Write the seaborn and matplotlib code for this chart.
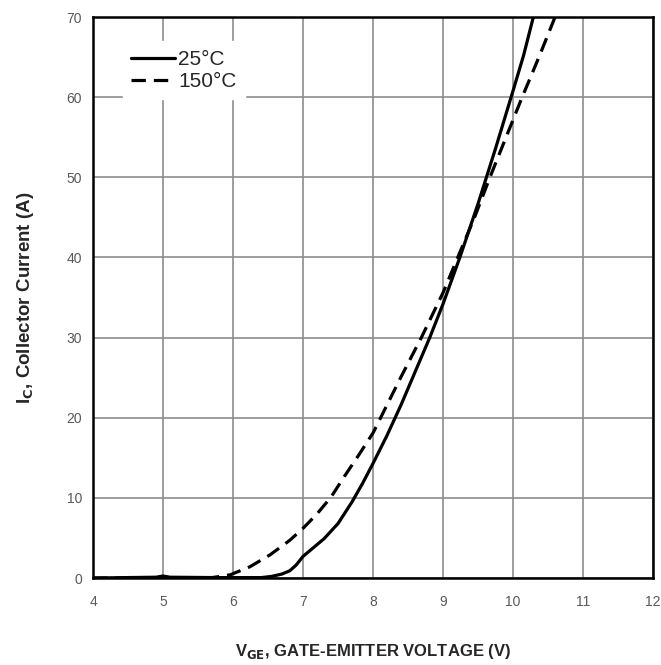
import numpy as np
import pandas as pd
import seaborn as sns
import matplotlib.pyplot as plt

# values
vge_25 = [4.0, 4.9, 5.0, 5.1, 5.8, 6.4, 6.55, 6.7, 6.81, 6.9, 7.0, 7.15, 7.3, 7.5,
          7.7, 7.85, 8.0, 8.2, 8.4, 8.6, 8.81, 9.0, 9.24, 9.5, 9.75, 10.0, 10.15, 10.29]
ic_25 = [0, 0.1, 0.25, 0.1, 0.05, 0.05, 0.2, 0.5, 0.9, 1.6, 2.7, 3.8, 4.9, 6.8,
         9.5, 11.8, 14.3, 17.8, 21.6, 25.7, 30, 34.2, 40, 46.7, 53.6, 60.8, 65.2, 70]

vge_150 = [4.0, 5.0, 5.7, 5.96, 6.24, 6.53, 6.81, 7.0, 7.2, 7.4, 7.6, 7.8, 8.0, 8.2,
           8.4, 8.69, 9.0, 9.21, 9.45, 9.67, 9.9, 10.13, 10.37, 10.6]
ic_150 = [0, 0, 0.05, 0.4, 1.4, 2.9, 4.7, 6.2, 8.0, 10.1, 12.8, 15.4, 18.1, 21.6,
          25.1, 30, 35.6, 40, 45, 50, 55, 60, 65, 70]

sns.set_style("white")
plt.rcParams['font.family'] = ['Liberation Sans', 'DejaVu Sans']

fig = plt.figure(figsize=(6.61, 6.65), dpi=100)
ax = fig.add_axes([0.1407, 0.1308, 0.8473, 0.8436])

df25 = pd.DataFrame({"vge": vge_25, "ic": ic_25})
df150 = pd.DataFrame({"vge": vge_150, "ic": ic_150})
sns.lineplot(data=df25, x="vge", y="ic", sort=False, color="black", lw=2.3,
             label="25°C", ax=ax)
sns.lineplot(data=df150, x="vge", y="ic", sort=False, color="black", lw=2.3,
             label="150°C", ax=ax)
ax.lines[1].set_dashes([4.5, 2.5])

ax.set_xlim(4, 12)
ax.set_ylim(0, 70)
ax.set_xticks(range(4, 13))
ax.set_yticks(range(0, 71, 10))
ax.grid(True, color="#8c8c8c", lw=1.2)
ax.set_axisbelow(True)
ax.tick_params(axis="both", length=0, labelsize=10, labelcolor="#595959")
ax.tick_params(axis="x", pad=12)
ax.tick_params(axis="y", pad=8)
for s in ax.spines.values():
    s.set_color("black")
    s.set_linewidth(1.8)

ax.set_xlabel(r"V$_{\mathbf{GE}}$, GATE-EMITTER VOLTAGE (V)", fontsize=12,
              fontweight="bold", labelpad=24)
ax.set_ylabel(r"I$_{\mathbf{C}}$, Collector Current (A)", fontsize=13.5,
              fontweight="bold", labelpad=22)

leg = ax.legend(loc="upper left", bbox_to_anchor=(0.035, 0.975), fontsize=15,
                frameon=True, framealpha=1, edgecolor="white", fancybox=False,
                handlelength=2.1, handletextpad=0.15, labelspacing=0.15,
                borderpad=0.4)

fig.savefig("out.png", dpi=100)
